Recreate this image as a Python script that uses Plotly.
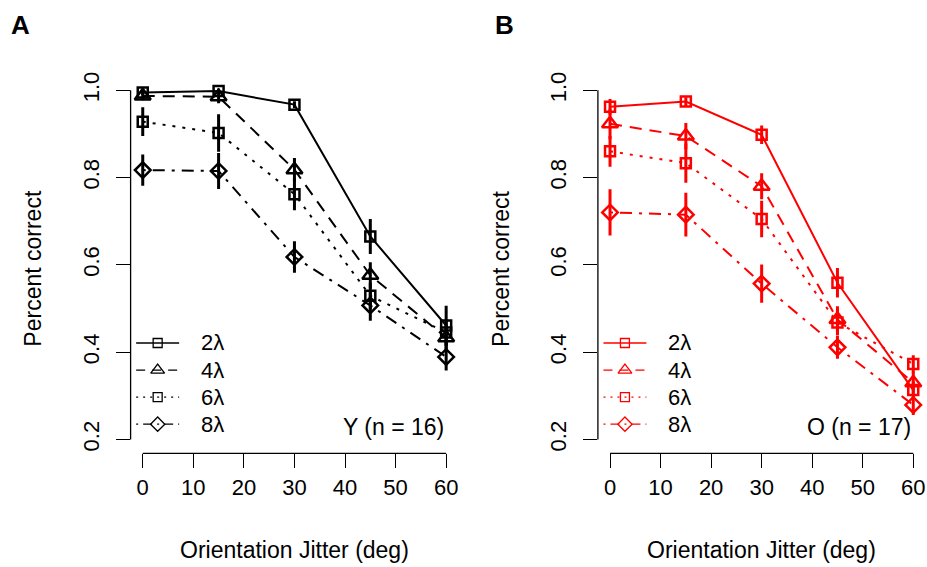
import plotly.graph_objects as go

# Orientation jitter levels (deg) and carrier wavelengths
jitter = [0, 15, 30, 45, 60]
wavelengths = ["2λ", "4λ", "6λ", "8λ"]
x_ticks = [0, 10, 20, 30, 40, 50, 60]
y_ticks = [0.2, 0.4, 0.6, 0.8, 1.0]

# Young group (n = 16): mean proportion correct and error
young_2l = [0.995, 0.998, 0.967, 0.665, 0.461]
young_2l_err = [0.006, 0.006, 0.008, 0.040, 0.045]
young_4l = [0.987, 0.985, 0.818, 0.576, 0.433]
young_4l_err = [0.010, 0.015, 0.027, 0.030, 0.030]
young_6l = [0.928, 0.902, 0.762, 0.529, 0.445]
young_6l_err = [0.033, 0.043, 0.037, 0.030, 0.030]
young_8l = [0.817, 0.815, 0.618, 0.507, 0.389]
young_8l_err = [0.036, 0.041, 0.036, 0.035, 0.031]

# Old group (n = 17)
old_2l = [0.962, 0.974, 0.898, 0.559, 0.313]
old_2l_err = [0.018, 0.010, 0.021, 0.034, 0.020]
old_4l = [0.923, 0.895, 0.780, 0.475, 0.330]
old_4l_err = [0.035, 0.030, 0.030, 0.030, 0.025]
old_6l = [0.860, 0.833, 0.705, 0.468, 0.373]
old_6l_err = [0.035, 0.045, 0.042, 0.030, 0.020]
old_8l = [0.720, 0.715, 0.557, 0.411, 0.279]
old_8l_err = [0.053, 0.050, 0.044, 0.026, 0.023]

young = [(young_2l, young_2l_err), (young_4l, young_4l_err),
         (young_6l, young_6l_err), (young_8l, young_8l_err)]
old = [(old_2l, old_2l_err), (old_4l, old_4l_err),
       (old_6l, old_6l_err), (old_8l, old_8l_err)]

# line / symbol style per wavelength (plot and legend glyph)
style = [
    dict(dash="solid", symbol="square-open", size=10, ldash="solid", lsize=9),
    dict(dash="12px,8px", symbol="triangle-up-open", size=14, ldash="9px,7px", lsize=12),
    dict(dash="3px,7px", symbol="square-open", size=10, ldash="2px,5px", lsize=9),
    dict(dash="3px,7px,12px,7px", symbol="diamond-open", size=12, ldash="2px,5px,9px,5px", lsize=11),
]

FONT = "Liberation Sans, Arial, sans-serif"
W, H = 927, 567

# legend layout, in user (data) coordinates like an R legend
LEG_LINE_X = (-1.3, 7.2)     # sample line start / end
LEG_TEXT_X = 11.1            # label start
LEG_TOP_Y = 0.421            # first row
LEG_ROW_STEP = 0.062         # row spacing

fig = go.Figure()

panels = [
    dict(data=young, color="black", xa="x", ya="y", tag="Y (n = 16)", letter="A"),
    dict(data=old, color="#FF0000", xa="x2", ya="y2", tag="O (n = 17)", letter="B"),
]

for p in panels:
    for name, (mean, err), st in zip(wavelengths, p["data"], style):
        fig.add_trace(go.Scatter(
            x=jitter, y=mean, mode="lines+markers", name=name,
            xaxis=p["xa"], yaxis=p["ya"], showlegend=False,
            line=dict(color=p["color"], width=2, dash=st["dash"]),
            marker=dict(symbol=st["symbol"], size=st["size"], color=p["color"],
                        line=dict(color=p["color"], width=2.5)),
            error_y=dict(type="data", array=err, visible=True,
                         color=p["color"], thickness=3, width=0),
        ))
    # legend box drawn inside the axes (bottom-left)
    for i, (name, st) in enumerate(zip(wavelengths, style)):
        ry = LEG_TOP_Y - i * LEG_ROW_STEP
        fig.add_trace(go.Scatter(
            x=list(LEG_LINE_X), y=[ry, ry], mode="lines", showlegend=False,
            xaxis=p["xa"], yaxis=p["ya"],
            line=dict(color=p["color"], width=1.3, dash=st["ldash"]),
        ))
        fig.add_trace(go.Scatter(
            x=[sum(LEG_LINE_X) / 2], y=[ry], mode="markers", showlegend=False,
            xaxis=p["xa"], yaxis=p["ya"],
            marker=dict(symbol=st["symbol"], size=st["lsize"], color=p["color"],
                        line=dict(color=p["color"], width=1.3)),
        ))
        fig.add_annotation(text=name, xref=p["xa"], yref=p["ya"], x=LEG_TEXT_X, y=ry,
                           showarrow=False, xanchor="left", yanchor="middle",
                           font=dict(family=FONT, size=22, color="black"))

x_range = [-2.4, 62.4]
y_range = [0.168, 1.032]
dom_y = [(H - 452.4) / H, (H - 71.9) / H]
dom_xa = [130.6 / W, 458.3 / W]
dom_xb = [597.9 / W, 925.4 / W]

axis_font = dict(family=FONT, size=22, color="black")
xcommon = dict(range=x_range, tickvals=x_ticks, ticks="outside", ticklen=14,
               tickwidth=1.3, tickcolor="black", showline=False, showgrid=False,
               zeroline=False, tickfont=axis_font, fixedrange=True)
ycommon = dict(range=y_range, tickvals=y_ticks, tickformat=".1f", ticks="outside",
               ticklen=14, tickwidth=1.3, tickcolor="black", showline=False,
               showgrid=False, zeroline=False, tickfont=axis_font, tickangle=-90,
               ticklabelstandoff=8, fixedrange=True)

fig.update_layout(
    width=W, height=H, margin=dict(l=0, r=0, t=0, b=0),
    paper_bgcolor="white", plot_bgcolor="white",
    font=dict(family=FONT, color="black"),
    xaxis=dict(domain=dom_xa, anchor="y", **xcommon),
    yaxis=dict(domain=dom_y, anchor="x", **ycommon),
    xaxis2=dict(domain=dom_xb, anchor="y2", **xcommon),
    yaxis2=dict(domain=dom_y, anchor="x2", **ycommon),
    showlegend=False,
    hovermode=False,
)

# R-style axis lines spanning only the tick range
for xa, ya in [("x", "y"), ("x2", "y2")]:
    fig.add_shape(type="line", xref=f"{xa} domain", yref=ya, x0=0, x1=0,
                  y0=y_ticks[0], y1=y_ticks[-1], line=dict(color="black", width=1.3))
    fig.add_shape(type="line", xref=xa, yref=f"{ya} domain", x0=x_ticks[0],
                  x1=x_ticks[-1], y0=0, y1=0, line=dict(color="black", width=1.3))

title_font = dict(family=FONT, size=23, color="black")
for p, dom_x, letter_x in [(panels[0], dom_xa, 20), (panels[1], dom_xb, 504)]:
    cx = (dom_x[0] + dom_x[1]) / 2
    fig.add_annotation(text="Orientation Jitter (deg)", xref="paper", yref="paper",
                       x=cx, y=(H - 550) / H, showarrow=False, font=title_font,
                       xanchor="center", yanchor="middle")
    fig.add_annotation(text="Percent correct", xref="paper", yref="paper",
                       x=(dom_x[0] * W - 97.6) / W, y=(H - 266) / H, textangle=-90,
                       showarrow=False, font=title_font, xanchor="center",
                       yanchor="middle")
    fig.add_annotation(text=p["tag"], xref=p["xa"], yref="paper", x=x_ticks[-1],
                       y=(H - 426) / H, showarrow=False, font=title_font,
                       xanchor="right", yanchor="middle")
    fig.add_annotation(text=f"<b>{p['letter']}</b>", xref="paper", yref="paper",
                       x=letter_x / W, y=(H - 20) / H, showarrow=False,
                       font=dict(family=FONT, size=26, color="black"),
                       xanchor="center", yanchor="middle")

fig.write_html("out.html")
